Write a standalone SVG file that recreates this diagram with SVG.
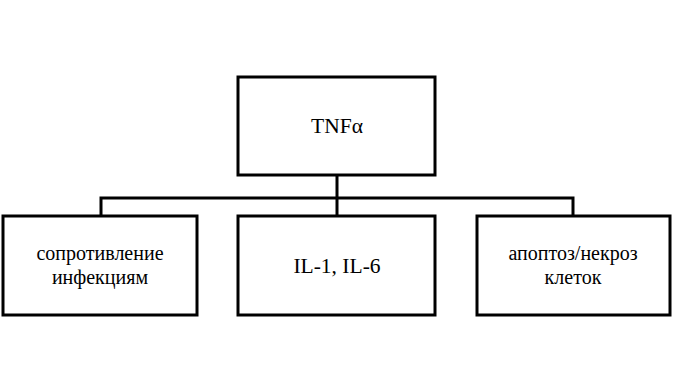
<svg xmlns="http://www.w3.org/2000/svg" width="674" height="392" viewBox="0 0 674 392">
<style>
.box{fill:#fff;stroke:#000;stroke-width:3}
.con{fill:none;stroke:#000;stroke-width:3}
text{font-family:"Liberation Serif","DejaVu Serif","Times New Roman",serif;font-size:20px;fill:#000;text-anchor:middle}
.big{font-size:21.5px}
</style>
<rect width="674" height="392" fill="#fff"/>
<g id="connectors">
<path class="con" d="M337 175V216M101 198H573M101 196.5V216M573 196.5V216"/>
</g>
<g id="tnf">
<rect class="box" x="238" y="77" width="197" height="98"/>
<text class="big" x="337" y="133">TNFα</text>
</g>
<g id="resist">
<rect class="box" x="3" y="216" width="194" height="99"/>
<text x="100" y="260">сопротивление</text>
<text x="100" y="284">инфекциям</text>
</g>
<g id="il">
<rect class="box" x="238" y="216" width="197" height="99"/>
<text class="big" x="337" y="273">IL-1, IL-6</text>
</g>
<g id="apoptosis">
<rect class="box" x="477" y="216" width="193" height="99"/>
<text x="573" y="260">апоптоз/некроз</text>
<text x="573" y="284">клеток</text>
</g>
</svg>
